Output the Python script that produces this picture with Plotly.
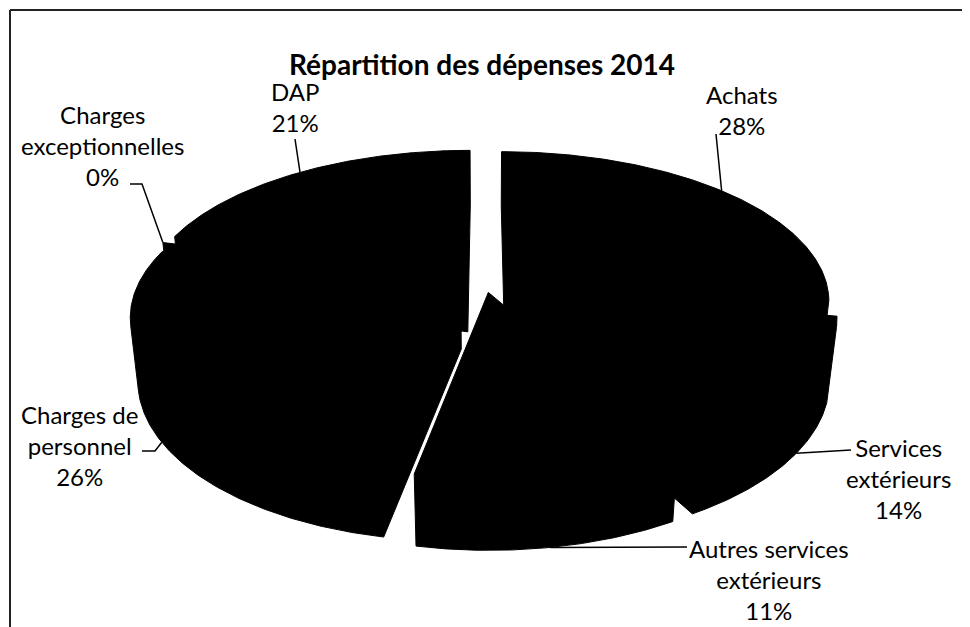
import numpy as np
import plotly.graph_objects as go

# ---------------- data ----------------
categories = ["Achats", "Services extérieurs", "Autres services extérieurs",
              "Charges de personnel", "Charges exceptionnelles", "DAP"]
values = [28, 14, 11, 26, 0, 21]
label_lines = [["Achats"], ["Services", "extérieurs"], ["Autres services", "extérieurs"],
               ["Charges de", "personnel"], ["Charges", "exceptionnelles"], ["DAP"]]
title_text = "Répartition des dépenses 2014"

# ---------------- geometry / style (3-D exploded pie, perspective) ----------------
W_PX, H_PX = 970, 627
PAGE_OFF = 8                # default page margin of the html body
PHI = np.radians(27.0)      # elevation
DIST = 4.77                 # camera distance (in pie radii)
FOC = 1531.0                # focal scale (px)
CX, CY = 484.0, 280.0       # projected pie centre
DEPTH = 0.2215              # pie thickness (in radii)
PULL = 0.085                # explosion (in radii)

LABEL_POS = {
    "Achats": (742, 110),
    "Services extérieurs": (898, 478),
    "Autres services extérieurs": (769, 579),
    "Charges de personnel": (79, 445),
    "Charges exceptionnelles": (102, 145),
    "DAP": (295, 107),
}
LEADER_START = {
    "Achats": [(716, 134)],
    "Services extérieurs": [(851, 450)],
    "Autres services extérieurs": [(687, 547)],
    "Charges de personnel": [(142, 451), (155, 451)],
    "Charges exceptionnelles": [(130, 184), (142, 184)],
    "DAP": [(295, 139)],
}
FONT = "Lato, 'Open Sans', sans-serif"


def project(X, Y, Z):
    X, Y, Z = np.asarray(X, float), np.asarray(Y, float), np.asarray(Z, float)
    yc = Z * np.cos(PHI) + Y * np.sin(PHI)
    zc = DIST + Y * np.cos(PHI) - Z * np.sin(PHI)
    return CX + FOC * X / zc, CY - FOC * yc / zc


def convex_hull(points):
    pts = sorted(set((round(p[0], 4), round(p[1], 4)) for p in points))
    if len(pts) <= 2:
        return pts

    def cross(o, a, b):
        return (a[0] - o[0]) * (b[1] - o[1]) - (a[1] - o[1]) * (b[0] - o[0])

    lower, upper = [], []
    for p in pts:
        while len(lower) >= 2 and cross(lower[-2], lower[-1], p) <= 0:
            lower.pop()
        lower.append(p)
    for p in reversed(pts):
        while len(upper) >= 2 and cross(upper[-2], upper[-1], p) <= 0:
            upper.pop()
        upper.append(p)
    return lower[:-1] + upper[:-1]


total = float(sum(values))
fracs = [v / total for v in values]
starts = np.concatenate([[0.0], np.cumsum(fracs)[:-1]]) * 2 * np.pi
ends = np.cumsum(fracs) * 2 * np.pi

fig = go.Figure()
anchors = {}
for cat, t0, t1 in zip(categories, starts, ends):
    tm = 0.5 * (t0 + t1)
    ox, oy = PULL * np.sin(tm), PULL * np.cos(tm)
    n = max(2, int(np.degrees(t1 - t0)) * 2)
    th = np.linspace(t0, t1, n)
    Xs = np.concatenate([[0.0], np.sin(th)]) + ox
    Ys = np.concatenate([[0.0], np.cos(th)]) + oy
    pts = []
    for z in (0.0, -DEPTH):
        sx, sy = project(Xs, Ys, np.full_like(Xs, z))
        pts += list(zip(sx, sy))
    hull = convex_hull(pts)
    hx = [p[0] for p in hull] + [hull[0][0]]
    hy = [p[1] for p in hull] + [hull[0][1]]
    fig.add_trace(go.Scatter(x=hx, y=hy, mode="lines", fill="toself",
                             fillcolor="black", line=dict(color="black", width=1),
                             hoverinfo="skip", showlegend=False))
    # leader anchor: mid-angle on outer edge (top for back slices, bottom for front)
    zz = 0.0 if np.cos(tm) >= 0 else -DEPTH
    ax, ay = project(np.sin(tm) + ox, np.cos(tm) + oy, zz)
    anchors[cat] = (float(ax), float(ay))

# leader lines
for cat in categories:
    start = LEADER_START[cat]
    xs = [p[0] for p in start] + [anchors[cat][0]]
    ys = [p[1] for p in start] + [anchors[cat][1]]
    fig.add_trace(go.Scatter(x=xs, y=ys, mode="lines",
                             line=dict(color="black", width=1.5),
                             hoverinfo="skip", showlegend=False))

# labels
for cat, lines, v in zip(categories, label_lines, values):
    pct = f"{round(v / total * 100):d}%"
    txt = "<br>".join(lines + [pct])
    x, y = LABEL_POS[cat]
    fig.add_annotation(x=x, y=y, xref="x", yref="y", text=txt, showarrow=False,
                       xanchor="center", yanchor="middle", align="center",
                       font=dict(family=FONT, size=24, color="black"))

# title
fig.add_annotation(x=482, y=64, xref="x", yref="y", text=f"<b>{title_text}</b>",
                   showarrow=False, xanchor="center", yanchor="middle",
                   font=dict(family=FONT, size=28, color="black"))

# chart border (top and left edges visible)
fig.add_shape(type="line", x0=10, y0=10, x1=W_PX + PAGE_OFF, y1=10, xref="x", yref="y",
              line=dict(color="#222222", width=2))
fig.add_shape(type="line", x0=10, y0=10, x1=10, y1=H_PX + PAGE_OFF, xref="x", yref="y",
              line=dict(color="#222222", width=2))

fig.update_layout(
    width=W_PX, height=H_PX, margin=dict(l=0, r=0, t=0, b=0),
    paper_bgcolor="white", plot_bgcolor="white",
    xaxis=dict(range=[PAGE_OFF, W_PX + PAGE_OFF], visible=False, fixedrange=True),
    yaxis=dict(range=[H_PX + PAGE_OFF, PAGE_OFF], visible=False, fixedrange=True),
    showlegend=False,
)
fig.write_html("out.html")
